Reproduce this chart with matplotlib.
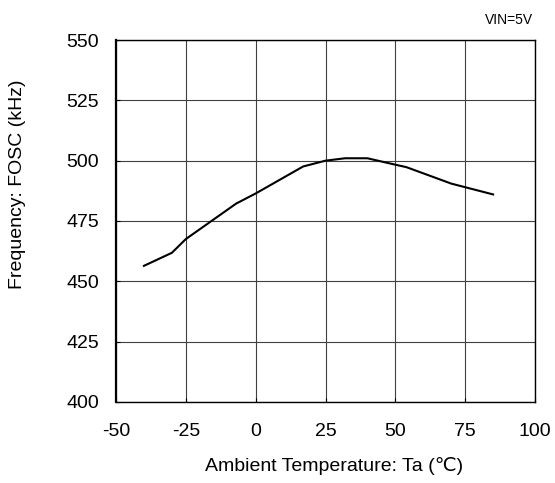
import matplotlib
matplotlib.use("Agg")
import matplotlib.pyplot as plt

plt.rcParams['font.family'] = ['Liberation Sans', 'DejaVu Sans']
plt.rcParams['axes.unicode_minus'] = False

# curve
temps = [-40, -30, -25, -7, 0, 17, 25, 32, 40, 49, 54, 70, 85]
freq = [456.4, 461.8, 467.5, 482.2, 486.4, 497.6, 500.0, 501.0, 501.0, 498.6, 497.3, 490.5, 486.0]

x_ticks = [-50, -25, 0, 25, 50, 75, 100]
y_ticks = [400, 425, 450, 475, 500, 525, 550]

fig = plt.figure(figsize=(5.55, 4.83), dpi=100)
ax = fig.add_axes([0.209, 0.168, 0.755, 0.749])

ax.plot(temps, freq, color='black', linewidth=1.5)

ax.set_xlim(-50, 100)
ax.set_ylim(400, 550)
ax.set_xticks(x_ticks)
ax.set_yticks(y_ticks)
ax.grid(True, color='#404040', linewidth=0.8)
ax.tick_params(direction='in', length=3, labelsize=14)
ax.tick_params(axis='x', pad=15)
ax.tick_params(axis='y', pad=12)
for s in ax.spines.values():
    s.set_linewidth(1.0)
ax.spines['left'].set_linewidth(1.6)

ax.set_xlabel("Ambient Temperature: Ta (\u2103)", fontsize=14, va='center')
ax.xaxis.set_label_coords(0.521, -0.177)
ax.set_ylabel("Frequency: FOSC (kHz)", fontsize=14, va='center')
ax.yaxis.set_label_coords(-0.2345, 0.602)
fig.text(0.961, 0.958, "VIN=5V", fontsize=10, ha='right', va='center')

fig.savefig("out.png", dpi=100)
